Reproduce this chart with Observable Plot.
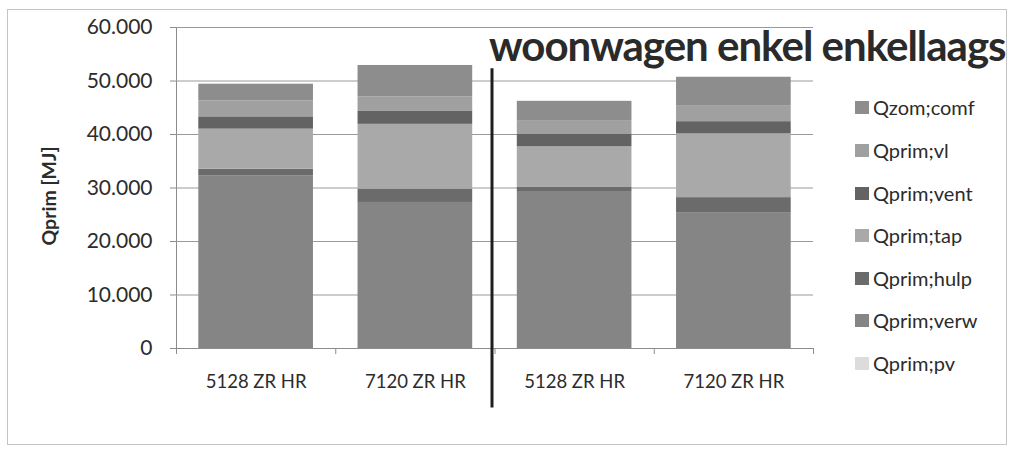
<!DOCTYPE html>
<html><head><meta charset="utf-8">
<script src="https://cdn.jsdelivr.net/npm/d3@7"></script>
<script src="https://cdn.jsdelivr.net/npm/@observablehq/plot@0.6"></script>
<style>
html,body{margin:0;padding:0;background:#fff;}
#wrap{position:relative;width:1014px;height:452px;overflow:hidden;font-family:Lato,sans-serif;background:#fff;}
#frame{position:absolute;left:7px;top:9px;width:1000px;height:436px;border:1px solid #c4c4c4;box-sizing:border-box;}
#chart{position:absolute;left:0;top:0;}
#chart svg text{fill:#2c2c2c;}
#chart [aria-label^="x-axis"] text{font-size:18.5px;}
#title{position:absolute;left:489px;top:20px;font-weight:bold;font-size:42px;letter-spacing:-1px;color:#2a2a2a;white-space:nowrap;line-height:50px;}
.item{position:absolute;left:855px;height:20px;font-size:20px;color:#2c2c2c;white-space:nowrap;line-height:20px;}
.sw{position:absolute;left:0;top:4px;width:14px;height:13px;}
.lt{position:absolute;left:18px;top:0;}
</style></head>
<body>
<div id="wrap">
<div id="frame"></div>
<div id="chart"></div>
<div id="title"></div>
<div id="legend"></div>
</div>
<script>
const titleText = "woonwagen enkel enkellaags";
const yLabel = "Qprim [MJ]";
const categories = ["5128 ZR HR", "7120 ZR HR", "5128 ZR HR", "7120 ZR HR"];
const seriesNames = ["Qprim;pv", "Qprim;verw", "Qprim;hulp", "Qprim;tap", "Qprim;vent", "Qprim;vl", "Qzom;comf"];
const seriesColors = ["#dcdcdc", "#858585", "#6b6b6b", "#a9a9a9", "#636363", "#a0a0a0", "#8d8d8d"];
const pv   = [0, 0, 0, 0];
const verw = [32300, 27300, 29200, 25400];
const hulp = [1200, 2500, 900, 2800];
const tap  = [7500, 12100, 7600, 11900];
const vent = [2300, 2500, 2300, 2300];
const vl   = [3000, 2600, 2600, 3000];
const zom  = [3100, 5900, 3600, 5300];
const yTicks = [0, 10000, 20000, 30000, 40000, 50000, 60000];
const catBoundaries = [-0.5, 0.5, 1.5, 2.5, 3.5];
const dividerAt = [1.5];
const dividerSpan = [-11100, 52300];

const seriesValues = [pv, verw, hulp, tap, vent, vl, zom];
const rows = [];
categories.forEach((c, i) => {
  let acc = 0;
  seriesValues.forEach((vals, s) => {
    rows.push({i, series: seriesNames[s], y1: acc, y2: acc + vals[i]});
    acc += vals[i];
  });
});
const fmt = d3.formatLocale({decimal: ",", thousands: ".", grouping: [3], currency: ["€", ""]}).format(",d");
const half = 0.36;

const plot = Plot.plot({
  width: 1014, height: 452,
  marginLeft: 176, marginRight: 201, marginTop: 27, marginBottom: 104,
  style: {background: "transparent", color: "#8c8c8c", fontFamily: "Lato, sans-serif", fontSize: "21px"},
  x: {type: "linear", domain: [-0.5, 3.5], ticks: [0, 1, 2, 3], tickFormat: i => categories[i], tickSize: 0, tickPadding: 26, label: null, line: true},
  y: {domain: [0, 60000], ticks: yTicks, tickFormat: fmt, tickSize: 6, tickPadding: 18, label: null, line: true},
  color: {domain: seriesNames, range: seriesColors},
  marks: [
    Plot.ruleY(yTicks.slice(1), {stroke: "#9a9a9a"}),
    Plot.rect(rows.filter(r => r.y2 > r.y1), {x1: r => r.i - half, x2: r => r.i + half, y1: "y1", y2: "y2", fill: "series"}),
    Plot.ruleX(catBoundaries, {y1: 0, y2: 0, insetBottom: -6, stroke: "#8c8c8c"}),
    Plot.ruleX(dividerAt, {y1: dividerSpan[0], y2: dividerSpan[1], stroke: "#1e1e1e", strokeWidth: 3, dx: -3}),
    Plot.text([yLabel], {frameAnchor: "left", textAnchor: "middle", lineAnchor: "middle", rotate: -90, dx: -127, dy: 8, fontWeight: "bold", fontSize: 19.5, fill: "#2c2c2c"})
  ]
});
document.getElementById("chart").appendChild(plot);
document.getElementById("title").textContent = titleText;

const legendTops = [97, 140, 183, 225, 268, 310, 353];
const legend = document.getElementById("legend");
seriesNames.slice().reverse().forEach((name, k) => {
  const idx = seriesNames.indexOf(name);
  const it = document.createElement("div");
  it.className = "item";
  it.style.top = legendTops[k] + "px";
  it.innerHTML = `<div class="sw" style="background:${seriesColors[idx]}"></div><div class="lt"></div>`;
  it.querySelector(".lt").textContent = name;
  legend.appendChild(it);
});
</script>
</body></html>
